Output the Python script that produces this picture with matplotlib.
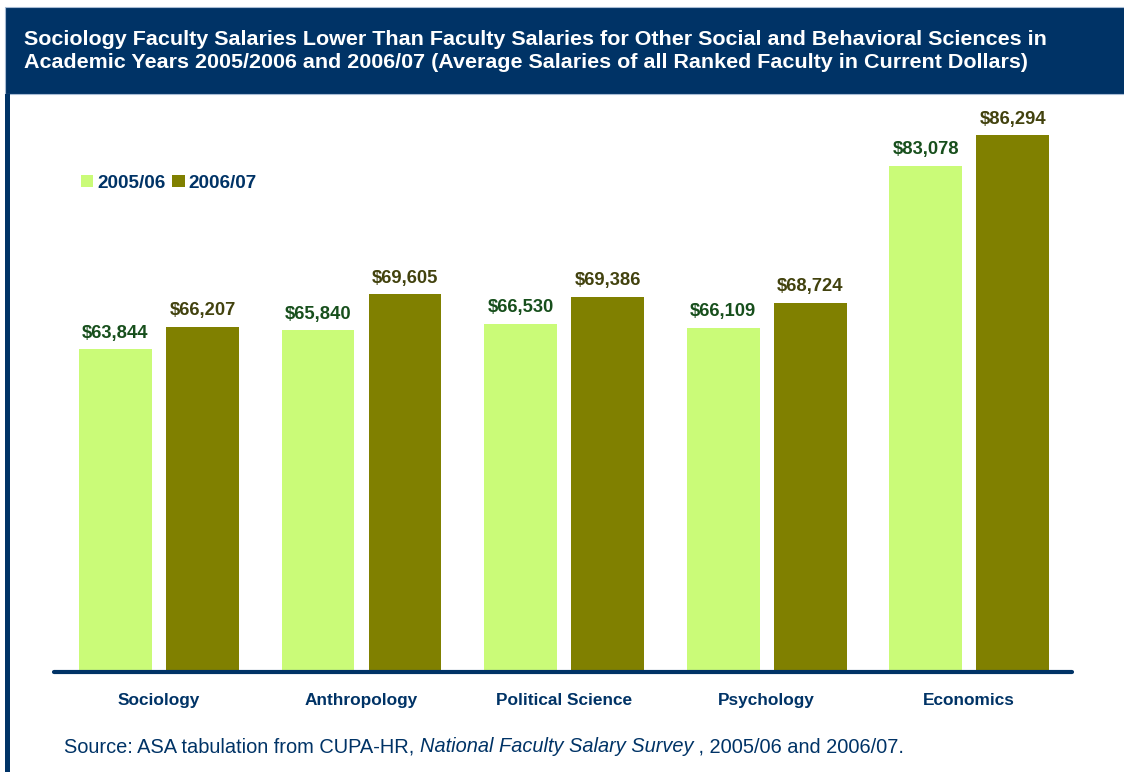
import matplotlib.pyplot as plt
import numpy as np
from matplotlib.patches import Patch, Rectangle


categories = ['Sociology', 'Anthropology', 'Political Science', 'Psychology', 'Economics']
salaries_0506 = [63844, 65840, 66530, 66109, 83078]
salaries_0607 = [66207, 69605, 69386, 68724, 86294]
series_names = ['2005/06', '2006/07']

title = ('Sociology Faculty Salaries Lower Than Faculty Salaries for Other Social and Behavioral Sciences in\n'
         'Academic Years 2005/2006 and 2006/07 (Average Salaries of all Ranked Faculty in Current Dollars)')
source_parts = [
    ('Source: ASA tabulation from CUPA-HR, ', 'normal'),
    ('National Faculty Salary Survey', 'italic'),
    (' , 2005/06 and 2006/07.', 'normal'),
]

navy = '#003366'
light_green = '#CAFB78'
olive = '#808000'
label_colors = ['#174F1C', '#42420E']

plt.rcParams['font.family'] = ['Liberation Sans', 'DejaVu Sans']

W, H = 1124, 772
fig = plt.figure(figsize=(W / 100, H / 100), dpi=100)


def fx(px):
    return px / W


def fy(py):
    return 1 - py / H


# Header band and the left frame edge
fig.patches.append(Rectangle((fx(5), fy(94)), 1, fy(7) - fy(94), transform=fig.transFigure,
                             facecolor=navy, edgecolor='#A8BCD4', linewidth=0.8, zorder=0))
fig.patches.append(Rectangle((fx(5), 0), fx(5), fy(94), transform=fig.transFigure,
                             facecolor=navy, edgecolor='none', zorder=0))
fig.text(fx(24), fy(51), title, color='white', fontsize=15.45, fontweight='bold',
         va='center', ha='left', linespacing=1.22)

ax = fig.add_axes([fx(54), fy(672), fx(1072) - fx(54), fy(100) - fy(672)])
x = np.arange(len(categories))
offset = 0.2148
width = 0.36
bars_a = ax.bar(x - offset, salaries_0506, width, color=light_green, zorder=2)
bars_b = ax.bar(x + offset, salaries_0607, width, color=olive, zorder=2)

for bars, values, col in [(bars_a, salaries_0506, label_colors[0]), (bars_b, salaries_0607, label_colors[1])]:
    for b, v in zip(bars, values):
        ax.annotate(f'${v:,}', (b.get_x() + b.get_width() / 2, v), xytext=(0, 5.5),
                    textcoords='offset points', ha='center', va='bottom',
                    fontsize=13.2, fontweight='bold', color=col)

ax.set_xlim(-0.518, 4.508)
ax.set_ylim(30000, 90000)
for side in ['top', 'right', 'left']:
    ax.spines[side].set_visible(False)
ax.spines['bottom'].set_linewidth(3)
ax.spines['bottom'].set_color(navy)
ax.spines['bottom'].set_capstyle('round')
ax.spines['bottom'].set_zorder(3)
ax.set_yticks([])
ax.set_xticks(x)
ax.set_xticklabels(categories, fontsize=12.4, fontweight='bold', color=navy)
ax.tick_params(axis='x', length=0, pad=15)

handles = [Patch(facecolor=light_green), Patch(facecolor=olive)]
fig.legend(handles, series_names, loc='center left', bbox_to_anchor=(fx(81), fy(183)),
           ncol=2, frameon=False, borderpad=0, borderaxespad=0, handlelength=0.65,
           handleheight=0.65, handletextpad=0.22, columnspacing=0.35,
           prop={'size': 13.6, 'weight': 'bold'}, labelcolor=navy)

# Source line with an italic survey name, laid out piece by piece
fig.canvas.draw()
renderer = fig.canvas.get_renderer()
cursor = fx(64)
for text, style in source_parts:
    t = fig.text(cursor, fy(747), text, fontsize=14.45, style=style, color=navy, va='center', ha='left')
    cursor = fig.transFigure.inverted().transform((t.get_window_extent(renderer).x1, 0))[0]

fig.savefig('out.png', dpi=100)
